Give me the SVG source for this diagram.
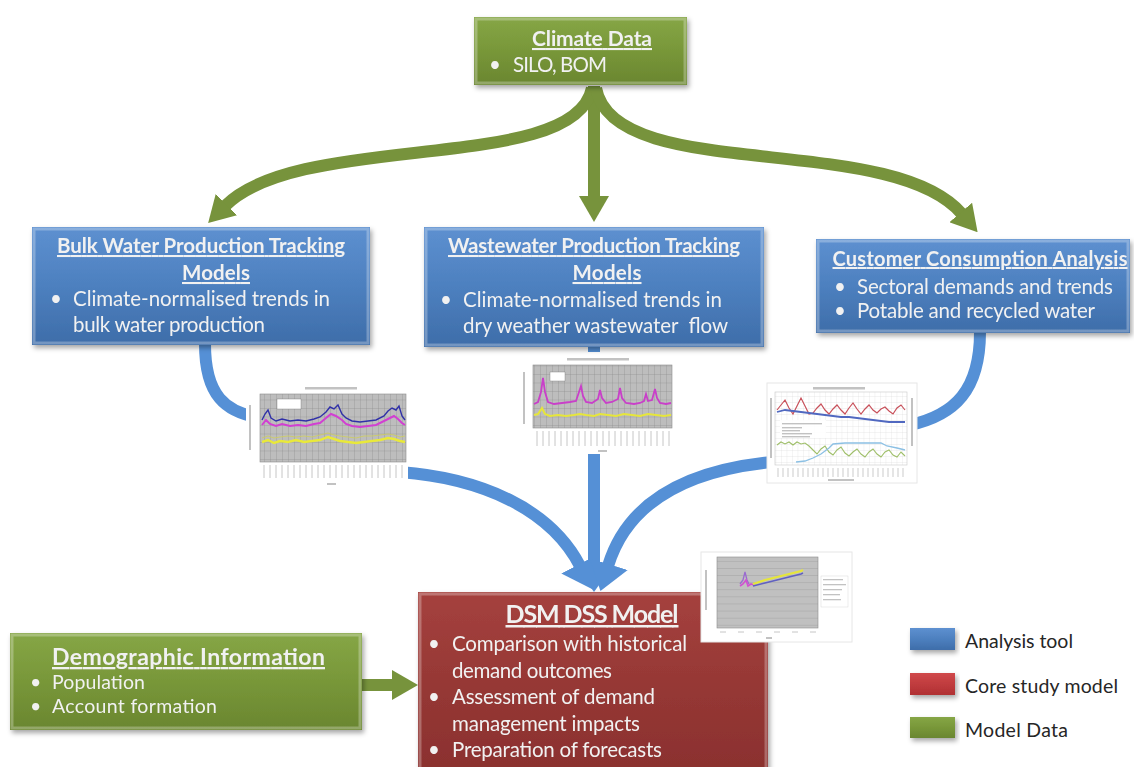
<svg xmlns="http://www.w3.org/2000/svg" width="1134" height="767" viewBox="0 0 1134 767">
  <defs>
    <style>
      .t { font-family: Lato, "Liberation Sans", sans-serif; fill: #f1f1f1; }
      .title { font-weight: bold; text-decoration: underline; }
      .body { font-size: 20.5px; }
      .legend { font-family: Lato, "Liberation Sans", sans-serif; font-size: 19.5px; fill: #262626; }
      .bevel { fill: none; stroke: #ffffff; stroke-opacity: 0.28; stroke-width: 3; }
      .flowG { fill: none; stroke: #77933c; stroke-width: 12; }
      .flowB { fill: none; stroke: #5590d6; stroke-width: 12; }
      .chartbg { fill: #ffffff; }
      .lbl { fill: #9a9a9a; opacity: 0.6; }
    </style>
    <linearGradient id="gGreen" x1="0" y1="0" x2="0" y2="1">
      <stop offset="0" stop-color="#86a646"/>
      <stop offset="0.5" stop-color="#789739"/>
      <stop offset="1" stop-color="#6a8630"/>
    </linearGradient>
    <linearGradient id="gBlue" x1="0" y1="0" x2="0" y2="1">
      <stop offset="0" stop-color="#5d90d0"/>
      <stop offset="0.5" stop-color="#4d80bf"/>
      <stop offset="1" stop-color="#3e6da9"/>
    </linearGradient>
    <linearGradient id="gRed" x1="0" y1="0" x2="0" y2="1">
      <stop offset="0" stop-color="#a5413e"/>
      <stop offset="0.5" stop-color="#963835"/>
      <stop offset="1" stop-color="#8a302e"/>
    </linearGradient>
    <linearGradient id="gRedKey" x1="0" y1="0" x2="0" y2="1">
      <stop offset="0" stop-color="#d0484a"/>
      <stop offset="1" stop-color="#b03033"/>
    </linearGradient>
    <filter id="shadow" x="-10%" y="-10%" width="120%" height="130%">
      <feDropShadow dx="2" dy="3" stdDeviation="2.5" flood-color="#000" flood-opacity="0.35"/>
    </filter>
    <marker id="headG" viewBox="0 0 26 30" refX="2" refY="15" markerWidth="26" markerHeight="30" markerUnits="userSpaceOnUse" orient="auto">
      <path d="M0,0 L26,15 L0,30 Z" fill="#77933c"/>
    </marker>
    <marker id="headB" viewBox="0 0 28 40" refX="2" refY="20" markerWidth="28" markerHeight="40" markerUnits="userSpaceOnUse" orient="auto">
      <path d="M0,0 L28,20 L0,40 Z" fill="#5590d6"/>
    </marker>
    <pattern id="gridDark" width="6" height="8.5" patternUnits="userSpaceOnUse">
      <rect width="6" height="8.5" fill="#bdbdbd"/>
      <path d="M0,0 H6 M0,0 V8.5" stroke="#8c8c8c" stroke-width="0.6"/>
    </pattern>
    <pattern id="gridLight" width="5.5" height="6" patternUnits="userSpaceOnUse">
      <rect width="5.5" height="6" fill="#ffffff"/>
      <path d="M0,0 H5.5 M0,0 V6" stroke="#dcdcdc" stroke-width="0.6"/>
    </pattern>
    <pattern id="gridRows" width="101" height="7.1" patternUnits="userSpaceOnUse">
      <rect width="101" height="7.1" fill="#c0c0c0"/>
      <path d="M0,0 H101" stroke="#8c8c8c" stroke-width="0.6"/>
    </pattern>
  </defs>

  <rect width="1134" height="767" fill="#ffffff"/>

  <!-- connectors -->
  <g id="connectors">
    <!-- climate data fans out to the three analysis tools -->
    <path class="flowG" d="M594,86 L594,198" marker-end="url(#headG)"/>
    <path class="flowG" d="M592,88 C575,175 300,130 225,206" marker-end="url(#headG)"/>
    <path class="flowG" d="M596,88 C613,185 890,130 962,214" marker-end="url(#headG)"/>
    <!-- demographic information into the model -->
    <path class="flowG" d="M360,685 L394,685" stroke-width="13" marker-end="url(#headG)"/>
    <!-- analysis tools feed the DSS model -->
    <path class="flowB" d="M205,344 C205,395 225,413 262,418"/>
    <path class="flowB" d="M400,472 C480,478 550,508 580,566" marker-end="url(#headB)"/>
    <path class="flowB" d="M594,346 L594,566" marker-end="url(#headB)"/>
    <path class="flowB" d="M980,332 C980,390 955,415 910,425"/>
    <path class="flowB" d="M772,462 C690,470 628,500 608,566" marker-end="url(#headB)"/>
  </g>

  <!-- chart thumbnails -->
  <g id="chart-bulk">
    <rect class="chartbg" x="246" y="383" width="162" height="104"/>
    <rect class="lbl" x="305" y="387" width="52" height="2.5"/>
    <rect class="lbl" x="249" y="405" width="2" height="45"/>
    <rect x="260" y="394" width="146" height="68" fill="url(#gridDark)" stroke="#8c8c8c" stroke-width="0.6"/>
    <rect x="277" y="399" width="24" height="10" fill="#ffffff" stroke="#777" stroke-width="0.4"/>
    <polyline fill="none" stroke="#d23fd2" stroke-width="2" points="262,425 266,420 270,424 276,426 282,424 290,426 298,425 306,426 314,424 320,423 326,418 331,414 336,416 342,420 346,424 352,426 360,427 368,426 376,425 384,421 390,418 394,416 398,419 402,423 405,425"/>
    <polyline fill="none" stroke="#3030a8" stroke-width="1.4" points="262,420 265,414 268,410 271,418 276,421 282,419 290,421 298,420 306,421 314,419 320,417 326,412 330,407 334,409 338,405 342,414 346,418 352,421 360,422 368,421 376,420 384,416 388,411 392,408 396,410 399,406 402,416 405,420"/>
    <polyline fill="none" stroke="#e9e93a" stroke-width="2.4" points="262,442 268,440 274,443 280,441 288,442 296,440 304,442 312,441 320,440 328,437 334,439 340,441 348,442 356,443 364,442 372,441 380,440 388,438 394,439 400,441 405,442"/>
    <polyline fill="none" stroke="#cfcf5a" stroke-width="0.8" points="262,438 268,436 274,438 280,437 288,436 296,437 304,436 312,437 320,435 328,433 334,435 340,436 348,437 356,438 364,436 372,436 380,435 388,434 394,435 400,437 405,436"/>
    <path d="M264,465 V478 M270,465 V478 M276,465 V478 M282,465 V478 M288,465 V478 M294,465 V478 M300,465 V478 M306,465 V478 M312,465 V478 M318,465 V478 M324,465 V478 M330,465 V478 M336,465 V478 M342,465 V478 M348,465 V478 M354,465 V478 M360,465 V478 M366,465 V478 M372,465 V478 M378,465 V478 M384,465 V478 M390,465 V478 M396,465 V478 M402,465 V478" stroke="#a0a0a0" stroke-width="1" opacity="0.6"/>
    <rect class="lbl" x="327" y="483" width="9" height="2"/>
  </g>

  <g id="chart-wastewater">
    <rect class="chartbg" x="500" y="352" width="178" height="102"/>
    <rect class="lbl" x="567" y="358" width="62" height="2.5"/>
    <rect class="lbl" x="523" y="372" width="2" height="52"/>
    <rect x="533" y="365" width="139" height="63" fill="url(#gridDark)" stroke="#8c8c8c" stroke-width="0.6"/>
    <rect x="550" y="372" width="15" height="9" fill="#ffffff" stroke="#777" stroke-width="0.4"/>
    <polyline fill="none" stroke="#c93fc9" stroke-width="1.8" points="534,404 538,402 541,392 543,378 545,392 548,402 554,404 562,403 570,402 576,401 579,392 581,386 583,396 586,402 592,403 598,399 600,390 602,398 606,403 612,402 618,399 620,388 622,398 626,403 634,404 640,403 644,401 646,394 648,401 652,400 655,389 657,398 660,403 666,404 671,403"/>
    <polyline fill="none" stroke="#e6e63a" stroke-width="2" points="534,415 538,414 542,408 545,414 550,416 558,415 566,416 574,415 580,414 586,415 594,416 600,414 608,415 616,416 624,414 632,415 640,416 648,414 656,415 664,416 671,415"/>
    <path d="M537,431 V446 M543,431 V446 M549,431 V446 M555,431 V446 M561,431 V446 M567,431 V446 M573,431 V446 M579,431 V446 M585,431 V446 M591,431 V446 M597,431 V446 M603,431 V446 M609,431 V446 M615,431 V446 M621,431 V446 M627,431 V446 M633,431 V446 M639,431 V446 M645,431 V446 M651,431 V446 M657,431 V446 M663,431 V446 M669,431 V446" stroke="#a0a0a0" stroke-width="1" opacity="0.6"/>
    <rect class="lbl" x="598" y="450" width="9" height="2"/>
  </g>

  <g id="chart-customer">
    <rect class="chartbg" x="767" y="383" width="150" height="100" stroke="#e6e6e6" stroke-width="1"/>
    <rect class="lbl" x="813" y="387" width="52" height="2.5"/>
    <rect class="lbl" x="770" y="398" width="2" height="60"/>
    <rect class="lbl" x="911" y="398" width="2" height="48"/>
    <rect x="775" y="392" width="132" height="73" fill="url(#gridLight)" stroke="#c8c8c8" stroke-width="0.6"/>
    <rect x="780" y="420" width="46" height="18" fill="#ffffff" opacity="0.9"/>
    <rect class="lbl" x="782" y="423" width="40" height="1.4"/>
    <rect class="lbl" x="782" y="427" width="20" height="1.4"/>
    <rect class="lbl" x="782" y="430" width="18" height="1.4"/>
    <rect class="lbl" x="782" y="433" width="30" height="1.4"/>
    <rect class="lbl" x="782" y="436" width="28" height="1.4"/>
    <polyline fill="none" stroke="#c8505a" stroke-width="1.2" points="777,410 781,405 785,400 789,408 793,414 797,406 801,398 805,406 809,414 813,413 817,408 821,404 825,410 829,414 833,409 837,405 841,410 845,414 849,408 853,403 857,409 861,414 865,409 869,405 873,410 877,413 881,409 885,407 889,411 893,414 897,408 901,405 905,410"/>
    <polyline fill="none" stroke="#5068c0" stroke-width="1.8" points="777,412 785,410 793,411 801,412 809,413 817,414 825,415 833,416 841,417 849,417 857,418 865,419 873,420 881,421 889,422 897,422 905,422"/>
    <polyline fill="none" stroke="#9fbf6a" stroke-width="1.1" points="777,445 781,442 785,444 789,442 793,445 797,442 801,444 805,443 809,446 813,450 817,454 821,449 825,446 829,452 833,455 837,450 841,447 845,453 849,456 853,452 857,449 861,454 865,457 869,452 873,449 877,454 881,457 885,452 889,450 893,455 897,457 901,452 905,456"/>
    <polyline fill="none" stroke="#8cc0e4" stroke-width="1.3" points="796,462 805,461 813,458 821,454 829,448 833,444 845,443 857,443 869,443 881,443 887,446 897,448 905,450"/>
    <path d="M778,468 V477 M783,468 V477 M788,468 V477 M793,468 V477 M798,468 V477 M803,468 V477 M808,468 V477 M813,468 V477 M818,468 V477 M823,468 V477 M828,468 V477 M833,468 V477 M838,468 V477 M843,468 V477 M848,468 V477 M853,468 V477 M858,468 V477 M863,468 V477 M868,468 V477 M873,468 V477 M878,468 V477 M883,468 V477 M888,468 V477 M893,468 V477 M898,468 V477 M903,468 V477" stroke="#a0a0a0" stroke-width="1" opacity="0.55"/>
    <rect class="lbl" x="828" y="479" width="26" height="2"/>
  </g>

  <!-- Climate Data -->
  <g id="climate-data" filter="url(#shadow)">
    <rect x="474" y="17" width="213" height="68" fill="url(#gGreen)"/>
    <rect class="bevel" x="476" y="19" width="209" height="64"/>
    <text class="t title" x="592" y="46" font-size="21" text-anchor="middle" textLength="120">Climate Data</text>
    <text class="t body" x="489" y="72">•</text>
    <text class="t body" x="513" y="72" textLength="94">SILO, BOM</text>
  </g>

  <!-- Bulk Water Production Tracking Models -->
  <g id="bulk-water" filter="url(#shadow)">
    <rect x="32" y="227" width="338" height="118" fill="url(#gBlue)"/>
    <rect class="bevel" x="34" y="229" width="334" height="114"/>
    <text class="t title" x="201" y="253" font-size="20.5" text-anchor="middle" textLength="288">Bulk Water Production Tracking</text>
    <text class="t title" x="216" y="280" font-size="20.5" text-anchor="middle" textLength="68">Models</text>
    <text class="t body" x="50" y="306">•</text>
    <text class="t body" x="73" y="306" textLength="257">Climate-normalised trends in</text>
    <text class="t body" x="73" y="332" textLength="192">bulk water production</text>
  </g>

  <!-- Wastewater Production Tracking Models -->
  <g id="wastewater" filter="url(#shadow)">
    <rect x="424" y="227" width="340" height="120" fill="url(#gBlue)"/>
    <rect class="bevel" x="426" y="229" width="336" height="116"/>
    <text class="t title" x="594" y="253" font-size="20.5" text-anchor="middle" textLength="292">Wastewater Production Tracking</text>
    <text class="t title" x="607" y="280" font-size="20.5" text-anchor="middle" textLength="69">Models</text>
    <text class="t body" x="440" y="307">•</text>
    <text class="t body" x="463" y="307" textLength="259">Climate-normalised trends in</text>
    <text class="t body" x="463" y="333" textLength="265" xml:space="preserve">dry weather wastewater  flow</text>
  </g>

  <!-- Customer Consumption Analysis -->
  <g id="customer" filter="url(#shadow)">
    <rect x="816" y="239" width="314" height="94" fill="url(#gBlue)"/>
    <rect class="bevel" x="818" y="241" width="310" height="90"/>
    <text class="t title" x="980" y="266" font-size="20" text-anchor="middle" textLength="295">Customer Consumption Analysis</text>
    <text class="t body" x="834" y="294">•</text>
    <text class="t body" x="857" y="294" textLength="256">Sectoral demands and trends</text>
    <text class="t body" x="834" y="318">•</text>
    <text class="t body" x="857" y="318" textLength="238">Potable and recycled water</text>
  </g>

  <!-- DSM DSS Model -->
  <g id="dsm-dss" filter="url(#shadow)">
    <rect x="418" y="592" width="350" height="185" fill="url(#gRed)"/>
    <rect class="bevel" x="420" y="594" width="346" height="181"/>
    <text class="t title" x="592" y="623" font-size="25" text-anchor="middle" textLength="173">DSM DSS Model</text>
    <text class="t body" x="428" y="651">•</text>
    <text class="t body" x="452" y="651" textLength="235">Comparison with historical</text>
    <text class="t body" x="452" y="678" textLength="160">demand outcomes</text>
    <text class="t body" x="428" y="704">•</text>
    <text class="t body" x="452" y="704" textLength="203">Assessment of demand</text>
    <text class="t body" x="452" y="731" textLength="188">management impacts</text>
    <text class="t body" x="428" y="757">•</text>
    <text class="t body" x="452" y="757" textLength="210">Preparation of forecasts</text>
  </g>

  <!-- model output chart, laid over the corner of the DSS box -->
  <g id="chart-dss">
    <rect class="chartbg" x="701" y="552" width="151" height="90" stroke="#e6e6e6" stroke-width="1"/>
    <rect class="lbl" x="705" y="570" width="2" height="40"/>
    <rect x="717" y="557" width="101" height="71" fill="url(#gridRows)" stroke="#8c8c8c" stroke-width="0.6"/>
    <polyline fill="none" stroke="#9a6ad0" stroke-width="1.3" points="740,584 743,580 745,572 747,580 749,584"/>
    <polyline fill="none" stroke="#d24fd2" stroke-width="1.6" points="740,586 743,584 746,580 748,586 751,584 754,585"/>
    <polyline fill="none" stroke="#e6e63a" stroke-width="2.2" points="753,584 765,580 777,577 789,574 801,571 803,570"/>
    <polyline fill="none" stroke="#6060c0" stroke-width="1.6" points="753,586 765,583 777,580 789,577 801,574 803,573"/>
    <rect x="821" y="576" width="27" height="31" fill="#ffffff" stroke="#cfcfcf" stroke-width="0.4"/>
    <rect class="lbl" x="823" y="579" width="20" height="1.3"/>
    <rect class="lbl" x="823" y="584" width="23" height="1.3"/>
    <rect class="lbl" x="823" y="589" width="19" height="1.3"/>
    <rect class="lbl" x="823" y="594" width="17" height="1.3"/>
    <rect class="lbl" x="823" y="599" width="18" height="1.3"/>
    <path d="M720,632 H726 M738,632 H744 M756,632 H762 M774,632 H780 M792,632 H798 M810,632 H816" stroke="#a0a0a0" stroke-width="1" opacity="0.6"/>
    <rect class="lbl" x="766" y="637" width="6" height="2"/>
  </g>

  <!-- Demographic Information -->
  <g id="demographic" filter="url(#shadow)">
    <rect x="10" y="633" width="352" height="97" fill="url(#gGreen)"/>
    <rect class="bevel" x="12" y="635" width="348" height="93"/>
    <text class="t title" x="52" y="665" font-size="23" textLength="273">Demographic Information</text>
    <text class="t" x="30" y="689" font-size="19.5">•</text>
    <text class="t" x="52" y="689" font-size="19.5" textLength="93">Population</text>
    <text class="t" x="30" y="713" font-size="19.5">•</text>
    <text class="t" x="52" y="713" font-size="19.5" textLength="165">Account formation</text>
  </g>

  <!-- legend -->
  <g id="legend">
    <g filter="url(#shadow)">
      <rect x="910" y="628" width="45" height="22" fill="url(#gBlue)"/>
      <rect x="910" y="673" width="45" height="22" fill="url(#gRedKey)"/>
      <rect x="910" y="717" width="45" height="21" fill="url(#gGreen)"/>
    </g>
    <text class="legend" x="965" y="648" textLength="108">Analysis tool</text>
    <text class="legend" x="965" y="693" textLength="153">Core study model</text>
    <text class="legend" x="965" y="737" textLength="103">Model Data</text>
  </g>
</svg>
